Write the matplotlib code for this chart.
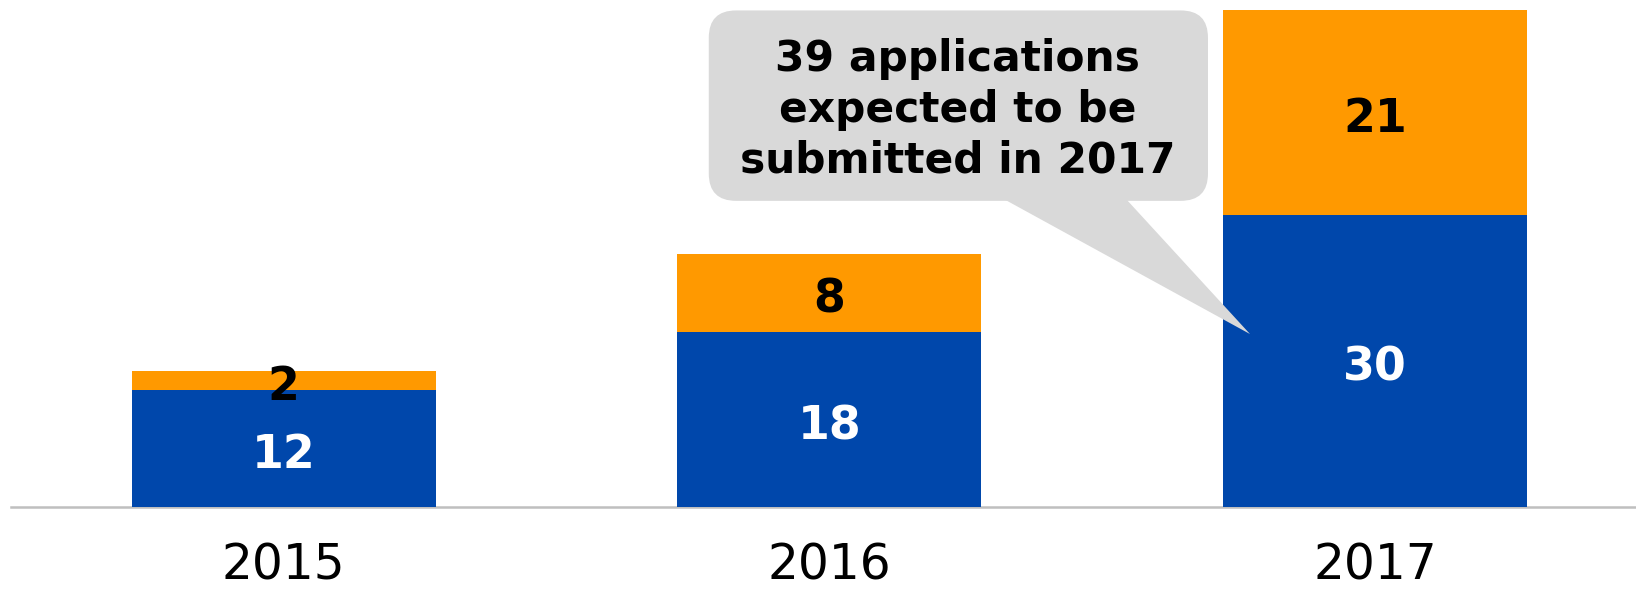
import matplotlib.pyplot as plt
from matplotlib.patches import FancyBboxPatch, Polygon

# data
years = ['2015', '2016', '2017']
submitted = [12, 18, 30]
expected = [2, 8, 21]

blue = '#0047AB'
orange = '#FF9900'
callout_grey = '#D9D9D9'

fig = plt.figure(figsize=(16.36, 5.91), dpi=100)
ax = fig.add_axes([0.0067, 0.1421, 0.9933, 0.8579])

x = range(len(years))
bw = 0.557
ax.bar(x, submitted, width=bw, color=blue, zorder=2)
ax.bar(x, expected, width=bw, bottom=submitted, color=orange, zorder=2)

# labels inside segments (nudged down a little, like the original)
for i in x:
    ax.annotate(str(submitted[i]), (i, submitted[i] / 2), xytext=(0, -5.3),
                textcoords='offset points', ha='center', va='center',
                color='white', fontsize=33, fontweight='bold', zorder=3)
    ax.annotate(str(expected[i]), (i, submitted[i] + expected[i] / 2),
                xytext=(0, -5.3), textcoords='offset points', ha='center',
                va='center', color='black', fontsize=33, fontweight='bold',
                zorder=3)

ax.set_xlim(-0.5, 2.4785)
ax.set_ylim(0, 52)
ax.set_xticks(list(x))
ax.set_xticklabels(years, fontsize=35)
ax.tick_params(axis='x', length=0, pad=25)
ax.set_yticks([])
for s in ['top', 'right', 'left']:
    ax.spines[s].set_visible(False)
ax.spines['bottom'].set_color('#BFBFBF')
ax.spines['bottom'].set_linewidth(1.8)
ax.spines['bottom'].set_zorder(1)

# callout box for 2017
bx0, bx1 = 0.779, 1.694
by0, by1 = 31.4, 50.93
r = 0.05
box = FancyBboxPatch((bx0, by0), bx1 - bx0, by1 - by0,
                     boxstyle=f'round,pad=0,rounding_size={r}',
                     mutation_aspect=56, fc=callout_grey, ec='none',
                     zorder=4, clip_on=False)
ax.add_patch(box)
tip = (1.771, 17.74)
tail = Polygon([(1.316, by0 + 0.3), (1.542, by0 + 0.3), tip],
               closed=True, fc=callout_grey, ec='none', zorder=4)
ax.add_patch(tail)
ax.text(1.2356, 40.76,
        '39 applications\nexpected to be\nsubmitted in 2017',
        ha='center', va='center', fontsize=30.5, fontweight='bold',
        linespacing=1.27, zorder=5)

plt.savefig('out.png', dpi=100)
